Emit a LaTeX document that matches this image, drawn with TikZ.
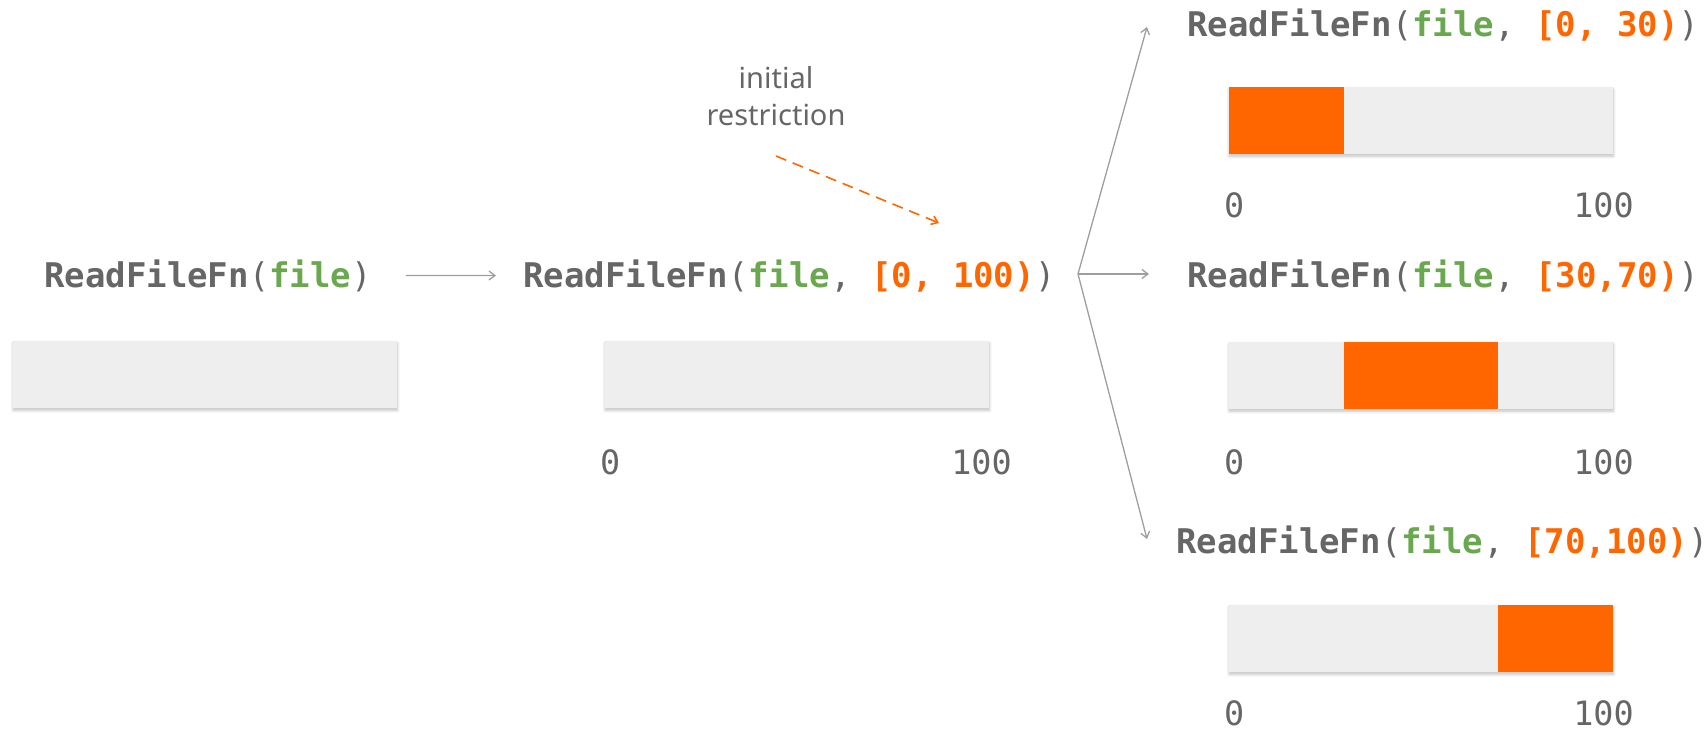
\documentclass[tikz,border=0pt]{standalone}
\usepackage{fontspec}
\setmainfont{Noto Sans}
\setmonofont{DejaVu Sans Mono}
\usetikzlibrary{arrows.meta,shadows.blur,calc}
\definecolor{txtgray}{HTML}{666666}
\definecolor{fgreen}{HTML}{6AA84F}
\definecolor{forange}{HTML}{FF6600}
\definecolor{barbg}{HTML}{EEEEEE}
\definecolor{arrgray}{HTML}{9E9E9E}
\newcommand{\fnname}{\textbf{ReadFileFn}}
\newcommand{\gf}{\textcolor{fgreen}{\textbf{file}}}
\newcommand{\rng}[1]{\textcolor{forange}{\textbf{#1}}}
\begin{document}
\begin{tikzpicture}[x=1pt,y=-1pt,
  code/.style={anchor=base west, inner sep=0pt, text=txtgray,
    font=\ttfamily\fontsize{34}{40}\selectfont},
  num/.style={inner sep=0pt, text=txtgray,
    font=\ttfamily\fontsize{33.5}{40}\selectfont},
  bar/.style={fill=barbg, minimum width=384pt, minimum height=67pt,
    inner sep=0pt, anchor=north west,
    blur shadow={shadow xshift=0pt, shadow yshift=-2pt,
      shadow blur radius=3pt, shadow blur steps=8, shadow opacity=25}},
  conn/.style={draw=arrgray, line width=1.3pt, -{Straight Barb[length=6pt,width=9pt]}},
  restr/.style={draw=forange, line width=1.6pt, dash pattern=on 11pt off 7pt,
    -{Straight Barb[length=6pt,width=9pt]}}
]
\useasboundingbox (0,0) rectangle (1708,732);

% texts
\node[code] (f0) at (44,287) {\fnname(\gf)};
\node[code] (f1) at (523,287) {\fnname(\gf, \rng{[0, 100)})};
\node[code] (f2) at (1187,36) {\fnname(\gf, \rng{[0, 30)})};
\node[code] (f3) at (1187,287) {\fnname(\gf, \rng{[30,70)})};
\node[code] (f4) at (1176,553) {\fnname(\gf, \rng{[70,100)})};

% bars
\node[bar] (b0) at (13,341) {};
\node[bar] (b1) at (605,341) {};
\node[bar] (b2) at (1229,87) {};
\node[bar] (b3) at (1229,342) {};
\node[bar] (b4) at (1229,605) {};

\fill[forange] (b2.north west) rectangle ($(b2.south west)!0.30!(b2.south east)$);
\fill[forange] ($(b3.north west)!0.30!(b3.north east)$) rectangle ($(b3.south west)!0.70!(b3.south east)$);
\fill[forange] ($(b4.north west)!0.70!(b4.north east)$) rectangle (b4.south east);

% scale labels
\node[num, anchor=base west] (z1) at (600,474) {0};
\node[num, anchor=base east] (h1) at (1012,474) {100};
\node[num, anchor=base west] (z2) at (1224,217) {0};
\node[num, anchor=base east] (h2) at (1634,217) {100};
\node[num, anchor=base west] (z3) at (1224,474) {0};
\node[num, anchor=base east] (h3) at (1634,474) {100};
\node[num, anchor=base west] (z4) at (1224,725) {0};
\node[num, anchor=base east] (h4) at (1634,725) {100};

% annotation
\node[text=txtgray, align=center, inner sep=0pt,
  font=\fontsize{29}{37}\selectfont] (lbl) at (776,96) {initial\\restriction};
\coordinate (ds) at (776,156);
\coordinate (de) at (939,223);
\draw[restr] (ds) -- (de);

% connectors
\draw[conn, shorten <=34pt, shorten >=27pt] (f0.east) -- (f1.west);
\coordinate (fan) at (1078,274);
\coordinate (t2) at (1147,27);
\coordinate (t3) at (1149,274);
\coordinate (t4) at (1147,539);
\draw[conn] (fan) -- (t2);
\draw[conn] (fan) -- (t3);
\draw[conn] (fan) -- (t4);
\end{tikzpicture}
\end{document}
